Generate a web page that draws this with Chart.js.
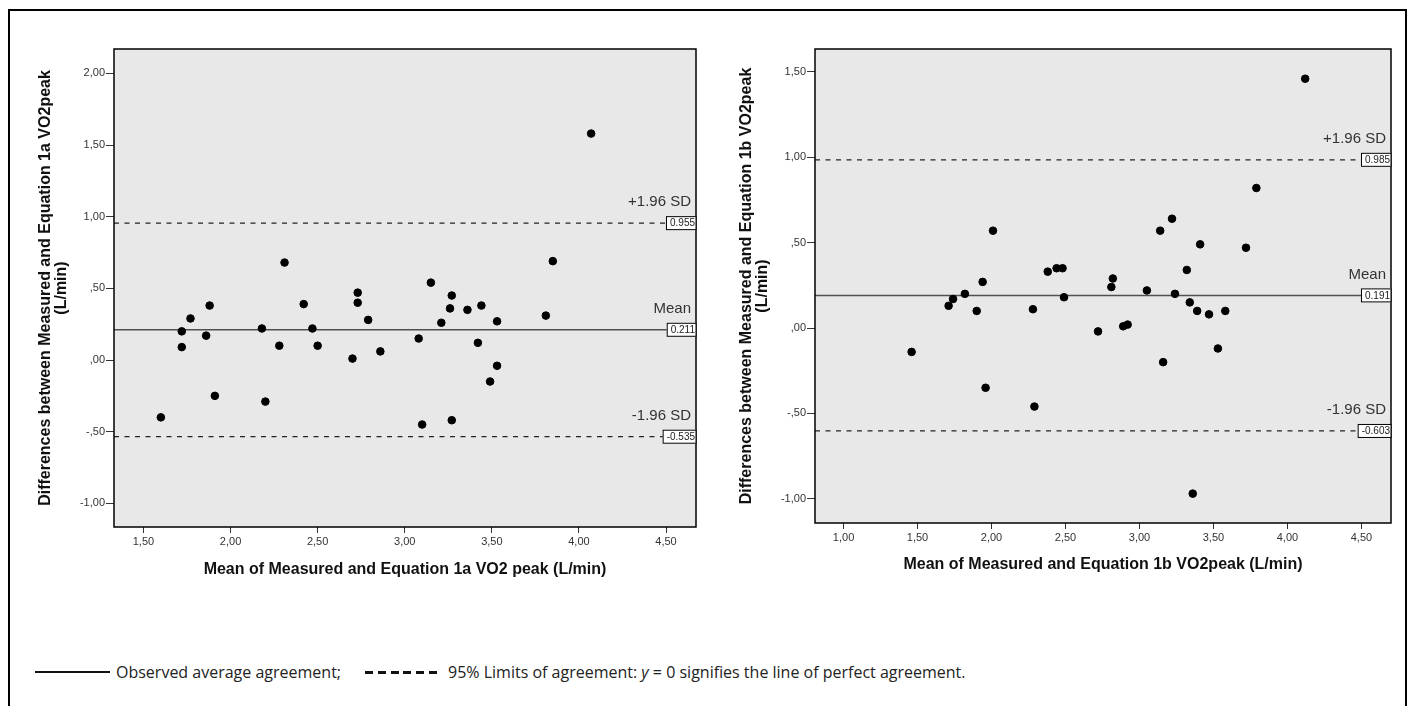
<!DOCTYPE html>
<html>
<head>
<meta charset="utf-8">
<script src="https://cdn.jsdelivr.net/npm/chart.js@4/dist/chart.umd.min.js"></script>
<style>
  body { margin: 0; background: #fff; width: 1413px; height: 706px; overflow: hidden; position: relative; }
  #frame { position: absolute; left: 8px; top: 9px; width: 1399px; height: 740px; border: 2px solid #000; box-sizing: border-box; }
  #chartA { position: absolute; left: 0; top: 0; }
  #chartB { position: absolute; left: 705px; top: 0; }
  .legend-text { position: absolute; top: 661px; font-family: "Open Sans", sans-serif; font-size: 16px; color: #222; white-space: nowrap; line-height: 22px; }
  #solid { position: absolute; left: 35px; top: 671px; width: 75px; height: 2px; background: #111; }
  #dashed { position: absolute; left: 365px; top: 671px; width: 72px; height: 3px;
    background: repeating-linear-gradient(90deg, #111 0 8px, transparent 8px 12.8px); }
</style>
</head>
<body>
<div id="frame"></div>
<canvas id="chartA" width="710" height="600"></canvas>
<canvas id="chartB" width="705" height="600"></canvas>
<div id="solid"></div>
<div class="legend-text" style="left:116px">Observed average agreement;</div>
<div id="dashed"></div>
<div class="legend-text" style="left:448px">95% Limits of agreement: <i>y</i> = 0 signifies the line of perfect agreement.</div>

<script>
// Equation 1a: mean of measured and predicted vs difference
var meanA = [4.07, 3.85, 2.31, 3.15, 2.73, 2.73, 3.27, 1.88, 2.42, 3.26, 3.36, 3.44, 3.81, 1.77, 2.79, 3.21, 3.53, 1.72,
             2.18, 2.47, 1.86, 3.08, 3.42, 1.72, 2.28, 2.50, 2.86, 2.70, 3.53, 3.49, 1.91, 2.20, 1.60, 3.27, 3.10];
var diffA = [1.58, 0.69, 0.68, 0.54, 0.47, 0.40, 0.45, 0.38, 0.39, 0.36, 0.35, 0.38, 0.31, 0.29, 0.28, 0.26, 0.27, 0.20,
             0.22, 0.22, 0.17, 0.15, 0.12, 0.09, 0.10, 0.10, 0.06, 0.01, -0.04, -0.15, -0.25, -0.29, -0.40, -0.42, -0.45];
var limitsA = [0.955, 0.211, -0.535];

// Equation 1b
var meanB = [4.12, 3.79, 3.22, 2.01, 3.14, 3.41, 3.72, 2.38, 2.44, 2.48, 3.32, 2.82, 1.94, 2.81, 3.05, 1.82, 3.24, 2.49,
             1.74, 3.34, 1.71, 2.28, 1.90, 3.39, 3.58, 3.47, 2.92, 2.89, 2.72, 1.46, 3.53, 3.16, 1.96, 2.29, 3.36];
var diffB = [1.46, 0.82, 0.64, 0.57, 0.57, 0.49, 0.47, 0.33, 0.35, 0.35, 0.34, 0.29, 0.27, 0.24, 0.22, 0.20, 0.20, 0.18,
             0.17, 0.15, 0.13, 0.11, 0.10, 0.10, 0.10, 0.08, 0.02, 0.01, -0.02, -0.14, -0.12, -0.20, -0.35, -0.46, -0.97];
var limitsB = [0.985, 0.191, -0.603];

var limitNames = ["+1.96 SD", "Mean", "-1.96 SD"];
var limitValueLabelsA = ["0.955", "0.211", "-0.535"];
var limitValueLabelsB = ["0.985", "0.191", "-0.603"];

var xTicksA = [1.5, 2.0, 2.5, 3.0, 3.5, 4.0, 4.5];
var xTickLabelsA = ["1,50", "2,00", "2,50", "3,00", "3,50", "4,00", "4,50"];
var yTicksA = [-1.0, -0.5, 0, 0.5, 1.0, 1.5, 2.0];
var yTickLabelsA = ["-1,00", "-,50", ",00", ",50", "1,00", "1,50", "2,00"];

var xTicksB = [1.0, 1.5, 2.0, 2.5, 3.0, 3.5, 4.0, 4.5];
var xTickLabelsB = ["1,00", "1,50", "2,00", "2,50", "3,00", "3,50", "4,00", "4,50"];
var yTicksB = [-1.0, -0.5, 0, 0.5, 1.0, 1.5];
var yTickLabelsB = ["-1,00", "-,50", ",00", ",50", "1,00", "1,50"];

var FONT = '"Liberation Sans", Arial, sans-serif';

// grey plot panel, black frame, SD/mean captions and value boxes
var panelPlugin = {
    id: "panel",
    beforeDraw: function (chart) {
        var a = chart.chartArea, ctx = chart.ctx;
        ctx.save();
        ctx.fillStyle = "#e8e8e8";
        ctx.fillRect(a.left, a.top, a.right - a.left, a.bottom - a.top);
        ctx.restore();
    },
    afterDraw: function (chart) {
        var a = chart.chartArea, ctx = chart.ctx;
        var o = chart.options.plugins.panel;
        var ys = chart.scales.y;
        ctx.save();
        ctx.strokeStyle = "#000";
        ctx.lineWidth = 1.5;
        ctx.strokeRect(a.left, a.top, a.right - a.left, a.bottom - a.top);

        for (var i = 0; i < o.values.length; i++) {
            var py = ys.getPixelForValue(o.values[i]);
            ctx.font = "15px " + FONT;
            ctx.fillStyle = "#333";
            ctx.textAlign = "right";
            ctx.textBaseline = "middle";
            ctx.fillText(o.names[i], a.right - 5, py - 21);

            ctx.font = "10px " + FONT;
            var w = ctx.measureText(o.labels[i]).width + 5;
            ctx.fillStyle = "#fff";
            ctx.fillRect(a.right - w, py - 7, w, 14);
            ctx.strokeStyle = "#000";
            ctx.lineWidth = 1;
            ctx.strokeRect(a.right - w + 0.5, py - 6.5, w - 0.5, 13);
            ctx.fillStyle = "#222";
            ctx.textAlign = "right";
            ctx.fillText(o.labels[i], a.right - 1, py + 0.5);
        }
        ctx.restore();
    }
};

function makePlot(canvasId, means, diffs, limits, valueLabels, cfg) {
    var pts = means.map(function (m, i) { return { x: m, y: diffs[i] }; });
    function hline(v) { return [{ x: cfg.xMin, y: v }, { x: cfg.xMax, y: v }]; }

    return new Chart(document.getElementById(canvasId), {
        type: "scatter",
        data: {
            datasets: [
                { data: pts, backgroundColor: "#000", borderColor: "#000", pointRadius: 3.8, pointHoverRadius: 3.8, order: 0 },
                { type: "line", data: hline(limits[0]), showLine: true, borderColor: "#222", borderWidth: 1.3, borderDash: [5, 5.5], pointRadius: 0, order: 1 },
                { type: "line", data: hline(limits[1]), showLine: true, borderColor: "#505050", borderWidth: 1.5, pointRadius: 0, order: 1 },
                { type: "line", data: hline(limits[2]), showLine: true, borderColor: "#222", borderWidth: 1.3, borderDash: [5, 5.5], pointRadius: 0, order: 1 }
            ]
        },
        options: {
            responsive: false,
            animation: false,
            layout: { padding: { top: 49, right: cfg.padRight, left: 0, bottom: 0 }, autoPadding: false },
            plugins: {
                legend: { display: false },
                tooltip: { enabled: false },
                panel: { values: limits, names: limitNames, labels: valueLabels }
            },
            scales: {
                x: {
                    type: "linear",
                    min: cfg.xMin, max: cfg.xMax,
                    afterFit: function (s) { s.height = cfg.xAxisHeight; },
                    afterBuildTicks: function (s) { s.ticks = cfg.xTicks.map(function (v) { return { value: v }; }); },
                    grid: { display: true, drawOnChartArea: false, drawTicks: true, tickLength: 6, color: "#333", lineWidth: 1 },
                    border: { display: false },
                    ticks: {
                        padding: 2, color: "#333", font: { family: FONT, size: 11 }, maxRotation: 0,
                        callback: function (v, i) { return cfg.xLabels[i]; }
                    },
                    title: {
                        display: true, text: cfg.xTitle, color: "#111",
                        font: { family: FONT, size: 16, weight: "bold", lineHeight: 1 },
                        padding: { top: 0, bottom: cfg.xTitlePad }
                    }
                },
                y: {
                    type: "linear",
                    min: cfg.yMin, max: cfg.yMax,
                    afterFit: function (s) { s.width = cfg.yAxisWidth; },
                    afterBuildTicks: function (s) { s.ticks = cfg.yTicks.map(function (v) { return { value: v }; }); },
                    grid: { display: true, drawOnChartArea: false, drawTicks: true, tickLength: 8, color: "#333", lineWidth: 1 },
                    border: { display: false },
                    ticks: {
                        padding: 1, color: "#333", font: { family: FONT, size: 11 },
                        callback: function (v, i) { return cfg.yLabels[i]; }
                    },
                    title: {
                        display: true, text: cfg.yTitle, color: "#111",
                        font: { family: FONT, size: 16, weight: "bold", lineHeight: 1 },
                        padding: { top: cfg.yTitlePad, bottom: 0 }
                    }
                }
            }
        },
        plugins: [panelPlugin]
    });
}

makePlot("chartA", meanA, diffA, limitsA, limitValueLabelsA, {
    xMin: 1.331, xMax: 4.672, yMin: -1.165, yMax: 2.17,
    xTicks: xTicksA, xLabels: xTickLabelsA, yTicks: yTicksA, yLabels: yTickLabelsA,
    padRight: 14, xAxisHeight: 73, yAxisWidth: 114, xTitlePad: 22.5, yTitlePad: 38,
    xTitle: "Mean of Measured and Equation 1a VO2 peak (L/min)",
    yTitle: ["Differences between Measured and Equation 1a VO2peak", "(L/min)"]
});

makePlot("chartB", meanB, diffB, limitsB, limitValueLabelsB, {
    xMin: 0.807, xMax: 4.70, yMin: -1.142, yMax: 1.634,
    xTicks: xTicksB, xLabels: xTickLabelsB, yTicks: yTicksB, yLabels: yTickLabelsB,
    padRight: 19, xAxisHeight: 77, yAxisWidth: 110, xTitlePad: 27.5, yTitlePad: 34,
    xTitle: "Mean of Measured and Equation 1b VO2peak (L/min)",
    yTitle: ["Differences between Measured and Equation 1b VO2peak", "(L/min)"]
});
</script>
</body>
</html>
